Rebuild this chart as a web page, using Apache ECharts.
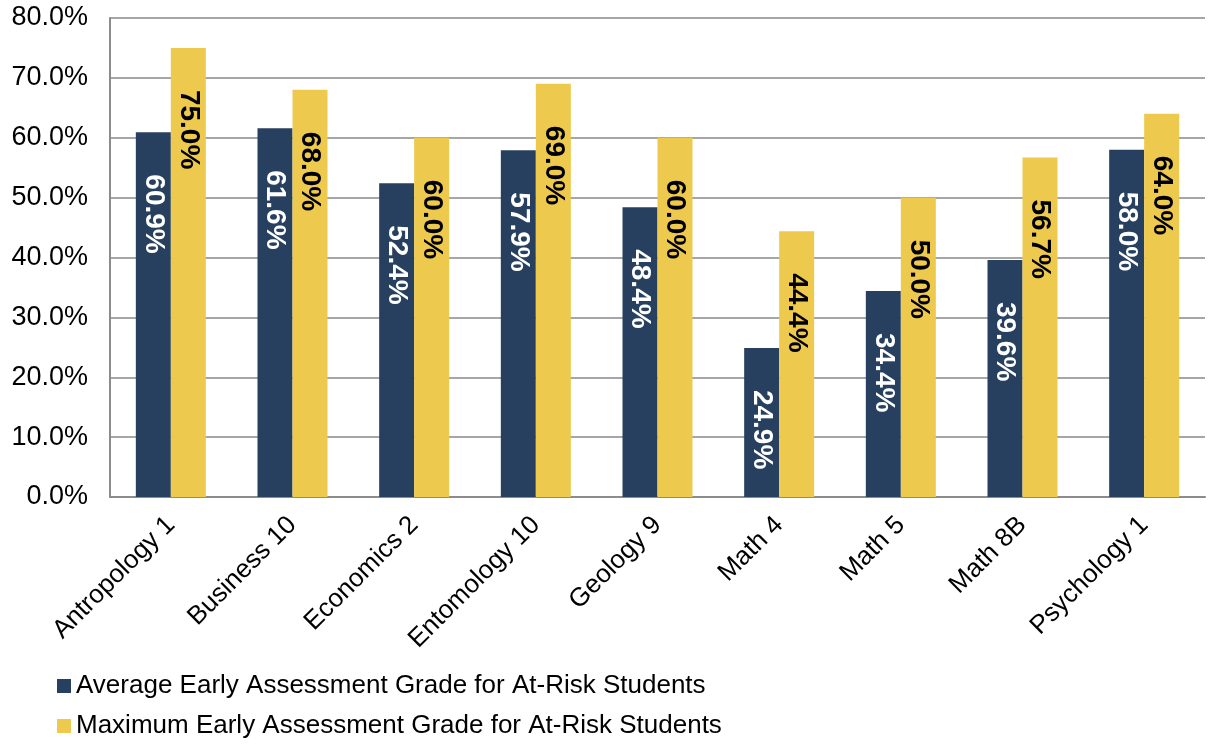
<!DOCTYPE html>
<html><head><meta charset="utf-8">
<script src="https://cdn.jsdelivr.net/npm/echarts@6/dist/echarts.min.js"></script>
<style>html,body{margin:0;padding:0;background:#fff}#c{width:1210px;height:744px}</style>
</head><body><div id="c"></div>
<script>
const categories = ["Antropology 1","Business 10","Economics 2","Entomology 10","Geology 9","Math 4","Math 5","Math 8B","Psychology 1"];
const avgValues = [60.9, 61.6, 52.4, 57.9, 48.4, 24.9, 34.4, 39.6, 58.0];
const maxValues = [75.0, 68.0, 60.0, 69.0, 60.0, 44.4, 50.0, 56.7, 64.0];
const seriesNames = ["Average Early Assessment Grade for At-Risk Students","Maximum Early Assessment Grade for At-Risk Students"];

const chart = echarts.init(document.getElementById('c'));
const font = 'Liberation Sans, Arial, sans-serif';
function lbl(color){
  return {show:true, position:'insideTop', distance:42, rotate:-90, align:'left', verticalAlign:'middle',
    color:color, fontFamily:font, fontSize:28, fontWeight:'bold', formatter:p=>p.value.toFixed(1)+'%'};
}
chart.setOption({
  animation:false,
  textStyle:{fontFamily:font},
  grid:{left:110,right:5,top:18,bottom:247,containLabel:false},
  legend:{orient:'vertical',left:52,top:668,itemGap:14,itemWidth:14,itemHeight:14,icon:'rect',
    textStyle:{fontFamily:font,fontSize:26,color:'#000'},data:seriesNames},
  xAxis:{type:'category',data:categories,
    axisLine:{lineStyle:{color:'#8c8c8c',width:2}},axisTick:{show:false},
    axisLabel:{rotate:45,fontSize:26,color:'#000',fontFamily:font,margin:24,interval:0}},
  yAxis:{type:'value',min:0,max:80,interval:10,
    axisLine:{show:true,lineStyle:{color:'#8c8c8c',width:2}},axisTick:{show:false},
    splitLine:{lineStyle:{color:'#888888',width:1.5}},
    axisLabel:{fontSize:27,color:'#000',fontFamily:font,margin:22,formatter:v=>v.toFixed(1)+'%'}},
  series:[
    {name:seriesNames[0],type:'bar',data:avgValues,barWidth:35,barGap:'0%',itemStyle:{color:'#27405F'},label:lbl('#fff')},
    {name:seriesNames[1],type:'bar',data:maxValues,barWidth:35,barGap:'0%',itemStyle:{color:'#EDC94E'},label:lbl('#000')}
  ]
});
</script></body></html>
